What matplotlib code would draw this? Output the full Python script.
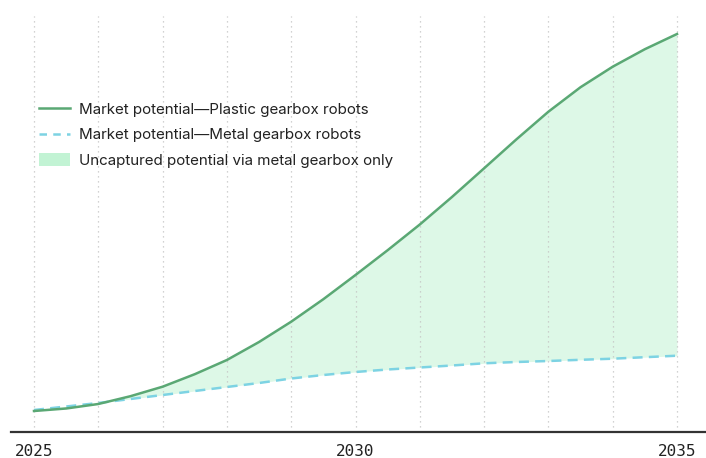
import matplotlib
matplotlib.use("Agg")
import matplotlib.pyplot as plt
from matplotlib.lines import Line2D
from matplotlib.patches import Patch

years = [2025, 2025.5, 2026, 2026.5, 2027, 2027.5, 2028, 2028.5, 2029, 2029.5, 2030,
         2030.5, 2031, 2031.5, 2032, 2032.5, 2033, 2033.5, 2034, 2034.5, 2035]
plastic = [21, 23.5, 28, 35.8, 45.3, 57.8, 72, 90, 110.3, 132.8, 157,
           181.8, 207.5, 235, 263.7, 292.5, 320.3, 344.8, 365.3, 382.8, 398]
metal = [22, 25.5, 29, 33, 37, 41, 45, 49, 53.5, 57, 60,
         62.5, 64.5, 66.5, 68.7, 70, 71, 72.2, 73.3, 74.8, 76.3]
grid_years = list(range(2025, 2036))
tick_years = [2025, 2030, 2035]

green = "#5aa874"
blue = "#7dd3e3"
fill_col = "#c2f3d4"

fig = plt.figure(figsize=(7.06, 4.58), dpi=100)
ax = fig.add_axes([11 / 706, 1 - 432 / 458, 695 / 706, 416 / 458])

ax.fill_between(years, metal, plastic, color=fill_col, alpha=0.55, linewidth=0)
ax.plot(years, metal, color=blue, linewidth=1.8, linestyle=(0, (4, 2.5)))
ax.plot(years, plastic, color=green, linewidth=1.8)

ax.set_xlim(2025 - 23 / 64.3, 2035 + 29 / 64.3)
ax.set_ylim(0, 416)

ax.set_xticks(grid_years, minor=True)
ax.set_xticks(tick_years)
ax.set_xticklabels([str(y) for y in tick_years], family="DejaVu Sans Mono", fontsize=11.5)
ax.grid(axis="x", which="both", color="#c4c4c4", linestyle=(0, (1, 3)), linewidth=0.9)
ax.tick_params(axis="x", which="both", length=0, pad=8.5, colors="#222222")
ax.set_yticks([])

for s in ["top", "right", "left"]:
    ax.spines[s].set_visible(False)
ax.spines["bottom"].set_color("#333333")
ax.spines["bottom"].set_linewidth(1.6)

handles = [
    Line2D([], [], color=green, linewidth=1.8),
    Line2D([], [], color=blue, linewidth=1.8, linestyle=(0, (3, 2.5))),
    Patch(facecolor=fill_col, edgecolor="none"),
]
labels = [
    "Market potential\u2014Plastic gearbox robots",
    "Market potential\u2014Metal gearbox robots",
    "Uncaptured potential via metal gearbox only",
]
ax.legend(handles, labels, loc="upper left", bbox_to_anchor=(0.02, 0.825),
          frameon=False, prop={"family": "Inter", "size": 10.9},
          handlelength=2.1, handleheight=0.9, handletextpad=0.6,
          labelspacing=0.72, labelcolor="#222222")

fig.savefig("out.png", dpi=100)
